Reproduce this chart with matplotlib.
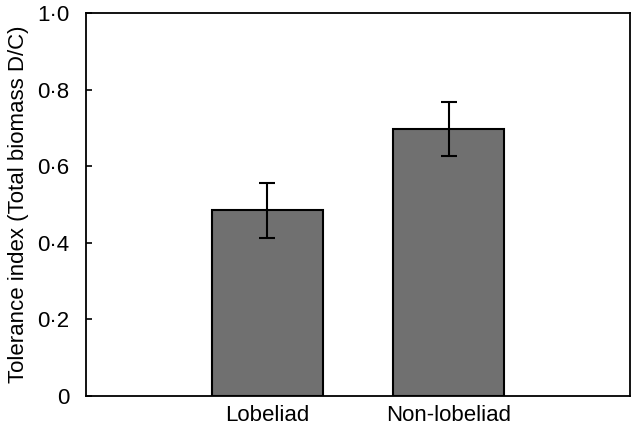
import numpy as np
import matplotlib.pyplot as plt

plt.rcParams['font.family'] = ['Liberation Sans', 'DejaVu Sans']

# Данные
groups = ['Lobeliad', 'Non-lobeliad']
tolerance = [0.484, 0.697]
err = [0.072, 0.071]
yticks = [0, 0.2, 0.4, 0.6, 0.8, 1.0]
ytick_labels = ['0', '0·2', '0·4', '0·6', '0·8', '1·0']

fig, ax = plt.subplots(figsize=(6.33, 4.32), dpi=100)
fig.subplots_adjust(left=0.136, right=0.995, top=0.97, bottom=0.084)

x = np.arange(len(groups))
ax.bar(x, tolerance, width=0.61, color='#707070', edgecolor='black', linewidth=1.5,
       yerr=err, capsize=6, error_kw=dict(elinewidth=1.5, capthick=1.5, ecolor='black'))

fs = 16
ax.set_xlim(-1, 2)
ax.set_ylim(0, 1.0)
ax.set_xticks(x)
ax.set_xticklabels(groups, fontsize=fs)
ax.set_yticks(yticks)
ax.set_yticklabels(ytick_labels, fontsize=fs)
ax.tick_params(axis='x', length=0, pad=7)
ax.tick_params(axis='y', direction='in', length=4, width=1.2, pad=12)
for s in ax.spines.values():
    s.set_linewidth(1.3)
ax.set_ylabel('Tolerance index (Total biomass D/C)', fontsize=fs, labelpad=6)

plt.savefig('out.png', dpi=100)
